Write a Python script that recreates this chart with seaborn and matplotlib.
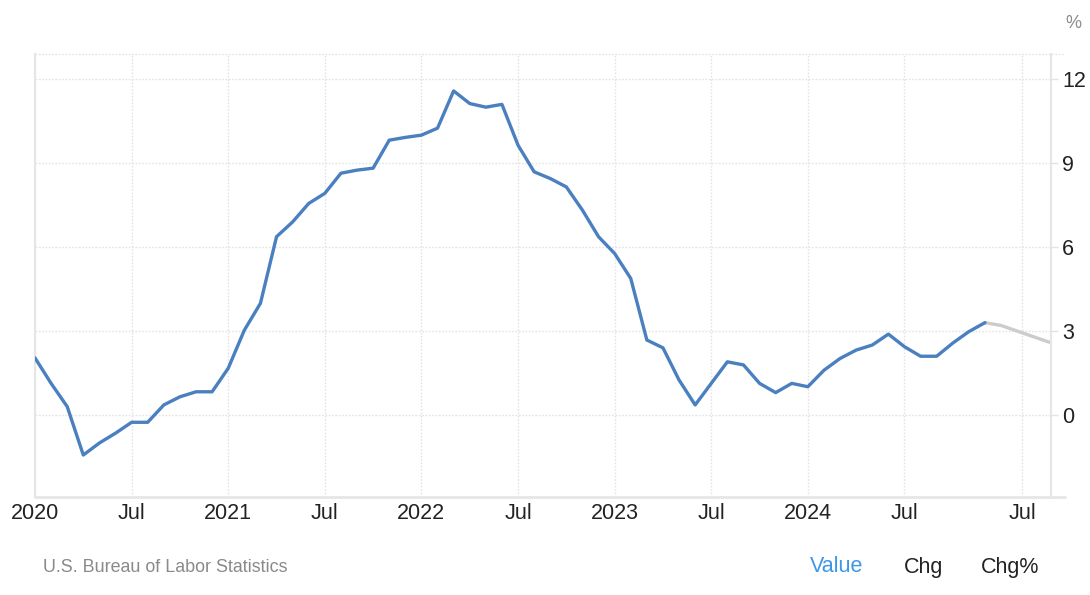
import numpy as np
import pandas as pd
import matplotlib
matplotlib.use("Agg")
import matplotlib.pyplot as plt
import seaborn as sns
from matplotlib.lines import Line2D

# =========================
# DATA
# =========================
# monthly actuals, Jan 2020 - Dec 2024 (%)
months = pd.date_range("2020-01-01", "2024-12-01", freq="MS")
values = [2.04, 1.13, 0.30, -1.43, -1.00, -0.65, -0.26, -0.26, 0.36, 0.65, 0.83, 0.83,
          1.67, 3.03, 3.99, 6.37, 6.90, 7.56, 7.92, 8.64, 8.75, 8.82, 9.82, 9.92,
          10.00, 10.25, 11.58, 11.13, 11.00, 11.10, 9.64, 8.69, 8.45, 8.15, 7.32, 6.37,
          5.77, 4.88, 2.68, 2.40, 1.25, 0.36, 1.13, 1.90, 1.79, 1.13, 0.80, 1.13,
          1.01, 1.60, 2.02, 2.32, 2.50, 2.89, 2.44, 2.10, 2.10, 2.57, 2.98, 3.30]

# quarterly forecast
fc_dates = pd.to_datetime(["2025-03-01", "2025-06-01", "2025-09-01", "2025-12-01"])
fc_values = [3.20, 3.00, 2.80, 2.60]

tick_dates = pd.to_datetime(["2020-01-01", "2020-07-01", "2021-01-01", "2021-07-01",
                             "2022-01-01", "2022-07-01", "2023-01-01", "2023-07-01",
                             "2024-01-01", "2024-07-01", "2025-07-01"])
tick_labels = ["2020", "Jul", "2021", "Jul", "2022", "Jul", "2023", "Jul",
               "2024", "Jul", "Jul"]
y_ticks = [0, 3, 6, 9, 12]

# ordinal x axis: every point gets the same width
all_dates = months.append(fc_dates)
pos = np.arange(len(all_dates))
actual = pd.DataFrame({"x": pos[:len(months)], "y": values})
forecast = pd.DataFrame({"x": pos[len(months) - 1:],
                         "y": [values[-1]] + fc_values})
tick_pos = np.interp(tick_dates.values.astype("int64"),
                     all_dates.values.astype("int64"), pos)

# =========================
# STYLE
# =========================
sns.set_theme(style="white")
plt.rcParams["font.family"] = ["Liberation Sans", "DejaVu Sans"]

W, H = 1090, 595
fig = plt.figure(figsize=(W / 100, H / 100), dpi=100)
ax = fig.add_axes([35 / W, 1 - 497 / H, (1051 - 35) / W, (497 - 54) / H])

grid_kw = dict(color="#e3e3e3", lw=1, ls=(0, (1.2, 1.2)), zorder=0)
for t in tick_pos:
    ax.axvline(t, **grid_kw)
for t in y_ticks:
    ax.axhline(t, **grid_kw)

sns.lineplot(data=forecast, x="x", y="y", ax=ax, color="#cccccc", lw=2.4,
             solid_capstyle="round", solid_joinstyle="round", zorder=2)
sns.lineplot(data=actual, x="x", y="y", ax=ax, color="#4a7fc0", lw=2.4,
             solid_capstyle="round", solid_joinstyle="round", zorder=3)

ax.set_xlim(0, 63.1)
ax.set_ylim(-2.93, 12.9)
ax.set_xlabel("")
ax.set_ylabel("")

ax.set_xticks(tick_pos)
ax.set_xticklabels(tick_labels)
ax.set_yticks(y_ticks)
ax.yaxis.tick_right()
ax.tick_params(axis="x", length=0, pad=4, labelsize=15.5, labelcolor="#222222")
ax.tick_params(axis="y", right=True, length=5, width=1, color="#e3e3e3",
               pad=3, labelsize=15.5, labelcolor="#222222")

for side in ["left", "right"]:
    ax.spines[side].set_color("#e6e6e6")
    ax.spines[side].set_linewidth(1.5)
ax.spines["top"].set_visible(False)
ax.spines["bottom"].set_visible(False)

# top dotted border and bottom base line, running past the axis
fig.add_artist(Line2D([35 / W, 1065 / W], [1 - 54 / H] * 2, color="#e3e3e3",
                      lw=1, ls=(0, (1.2, 1.2))))
fig.add_artist(Line2D([35 / W, 1065 / W], [1 - 497 / H] * 2, color="#e6e6e6",
                      lw=2))

# =========================
# TEXT
# =========================
fig.text(1073 / W, 1 - 23 / H, "%", ha="center", va="center",
         fontsize=13, color="#8c8c8c")
fig.text(43 / W, 1 - 567 / H, "U.S. Bureau of Labor Statistics", ha="left",
         va="center", fontsize=12.9, color="#8a8a8a")
fig.text(810 / W, 1 - 567 / H, "Value", ha="left", va="center",
         fontsize=15.5, color="#3d96e6")
fig.text(904 / W, 1 - 567 / H, "Chg", ha="left", va="center",
         fontsize=15.5, color="#222222")
fig.text(981 / W, 1 - 567 / H, "Chg%", ha="left", va="center",
         fontsize=15.5, color="#222222")

fig.savefig("out.png", dpi=100)
